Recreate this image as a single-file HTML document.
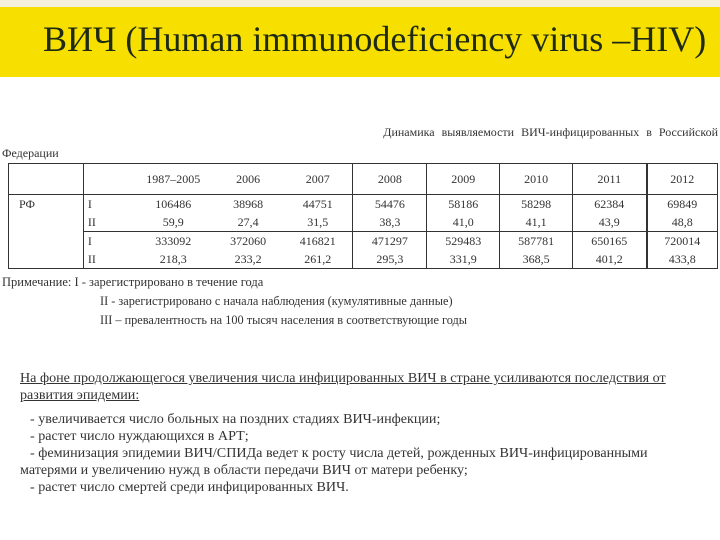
<!DOCTYPE html>
<html><head><meta charset="utf-8"><style>
body{margin:0;width:720px;height:540px;background:#fff;position:relative;overflow:hidden;font-family:"Liberation Serif","Noto Serif CJK SC",serif;color:#222}
.abs{position:absolute;white-space:nowrap}
#band{position:absolute;left:0;top:7px;width:720px;height:70px;background:#f7df00}
#top{position:absolute;left:0;top:0;width:720px;height:7px;background:#f4f0dc}
#title{position:absolute;left:43px;top:18px;font-size:36px;color:#1e2a12;white-space:nowrap}
table{position:absolute;left:8px;top:163px;width:710px;border-collapse:collapse;font-size:12px;color:#333}
td{padding:0;text-align:center;height:18px}
.s{font-size:12px;color:#333}
.b{font-size:14.1px;color:#333}
.u{text-decoration:underline}
</style></head><body>
<div id="top"></div>
<div id="band"></div>
<div id="title">ВИЧ (Human immunodeficiency virus –HIV)</div>
<div class="abs s" style="right:2px;top:125px;word-spacing:4px">Динамика выявляемости ВИЧ-инфицированных в Российской</div>
<div class="abs s" style="left:2px;top:146px">Федерации</div>
<table>
<colgroup><col style="width:75px"><col style="width:50px"><col style="width:80px"><col style="width:70px"><col style="width:70px"><col style="width:74px"><col style="width:73px"><col style="width:73px"><col style="width:74px"><col style="width:71px"></colgroup>
<tr style="height:31px;border:1px solid #333"><td style="border-right:1px solid #333"></td><td></td><td>1987–2005</td><td>2006</td><td>2007</td><td style="border-left:1px solid #333;border-right:1px solid #333">2008</td><td style="border-right:1px solid #333">2009</td><td style="border-right:1px solid #333">2010</td><td style="border-right:1px solid #333">2011</td><td style="border-left:2px solid #333">2012</td></tr>
<tr><td rowspan="4" style="border:1px solid #333;vertical-align:top;text-align:left;padding:2px 0 0 10px">РФ</td><td style="border-left:1px solid #333;text-align:left;padding-left:4px">I</td><td>106486</td><td>38968</td><td>44751</td><td style="border-left:1px solid #333;border-right:1px solid #333">54476</td><td style="border-right:1px solid #333">58186</td><td style="border-right:1px solid #333">58298</td><td style="border-right:1px solid #333">62384</td><td style="border-left:2px solid #333;border-right:1px solid #333">69849</td></tr>
<tr style="border-bottom:1px solid #333"><td style="border-left:1px solid #333;text-align:left;padding-left:4px">II</td><td>59,9</td><td>27,4</td><td>31,5</td><td style="border-left:1px solid #333;border-right:1px solid #333">38,3</td><td style="border-right:1px solid #333">41,0</td><td style="border-right:1px solid #333">41,1</td><td style="border-right:1px solid #333">43,9</td><td style="border-left:2px solid #333;border-right:1px solid #333">48,8</td></tr>
<tr><td style="border-left:1px solid #333;text-align:left;padding-left:4px">I</td><td>333092</td><td>372060</td><td>416821</td><td style="border-left:1px solid #333;border-right:1px solid #333">471297</td><td style="border-right:1px solid #333">529483</td><td style="border-right:1px solid #333">587781</td><td style="border-right:1px solid #333">650165</td><td style="border-left:2px solid #333;border-right:1px solid #333">720014</td></tr>
<tr style="border-bottom:1px solid #333"><td style="border-left:1px solid #333;text-align:left;padding-left:4px">II</td><td>218,3</td><td>233,2</td><td>261,2</td><td style="border-left:1px solid #333;border-right:1px solid #333">295,3</td><td style="border-right:1px solid #333">331,9</td><td style="border-right:1px solid #333">368,5</td><td style="border-right:1px solid #333">401,2</td><td style="border-left:2px solid #333;border-right:1px solid #333">433,8</td></tr>
</table>
<div class="abs s" style="left:2px;top:275px;font-size:12.5px">Примечание: I  - зарегистрировано в течение года</div>
<div class="abs s" style="left:100px;top:294px;font-size:12.3px">II  - зарегистрировано с начала наблюдения (кумулятивные данные)</div>
<div class="abs s" style="left:100px;top:313px;font-size:12.3px">III – превалентность на 100 тысяч населения в соответствующие годы</div>
<div class="abs b u" style="left:20px;top:370px">На фоне продолжающегося увеличения числа инфицированных ВИЧ в стране усиливаются последствия от</div>
<div class="abs b u" style="left:20px;top:387px">развития эпидемии:</div>
<div class="abs b" style="left:30px;top:411px">- увеличивается число больных на поздних стадиях ВИЧ-инфекции;</div>
<div class="abs b" style="left:30px;top:428px">- растет число нуждающихся в АРТ;</div>
<div class="abs b" style="left:30px;top:445px">- феминизация эпидемии ВИЧ/СПИДа ведет к росту числа детей, рожденных ВИЧ-инфицированными</div>
<div class="abs b" style="left:20px;top:462px">матерями и увеличению нужд в области передачи ВИЧ от матери ребенку;</div>
<div class="abs b" style="left:30px;top:479px">- растет число смертей среди инфицированных ВИЧ.</div>
</body></html>
